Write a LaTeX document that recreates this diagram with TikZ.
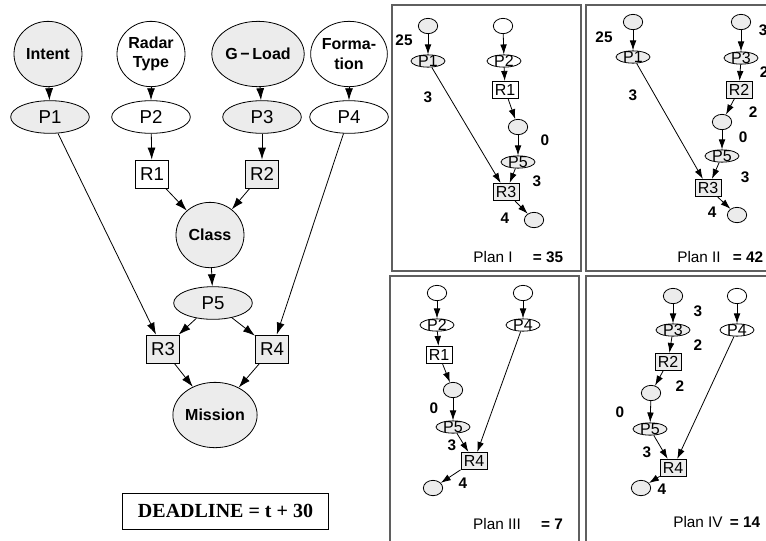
\documentclass[tikz,border=0pt]{standalone}
\usepackage{fontspec}
\setmainfont{Liberation Sans}
\newfontfamily\deadfont{Liberation Serif}
\usetikzlibrary{arrows.meta,shapes.geometric}
\definecolor{nodegray}{RGB}{236,236,236}
\definecolor{framegray}{RGB}{95,95,95}

\begin{document}
\begin{tikzpicture}[x=0.75pt, y=-0.75pt, font=\fontsize{14}{16}\selectfont, line width=0.6pt,
	>={Latex[length=9pt,width=6pt]},
	gr/.style={fill=nodegray}, wh/.style={fill=white},
	bignode/.style={ellipse, draw=black, minimum width=51pt, minimum height=49pt, inner sep=0pt, align=center, font=\fontsize{12}{14.5}\selectfont\bfseries},
	pnode/.style={ellipse, draw=black, minimum width=59pt, minimum height=24.5pt, inner sep=0pt},
	rnode/.style={rectangle, draw=black, minimum width=25pt, minimum height=21pt, inner sep=0pt},
	tinynode/.style={ellipse, draw=black, minimum width=14.5pt, minimum height=11.5pt, inner sep=0pt},
	smallp/.style={ellipse, draw=black, minimum width=25.5pt, minimum height=9.2pt, inner sep=0pt, label={[inner sep=0pt, font=\fontsize{12}{13}\selectfont]center:#1}},
	smallr/.style={rectangle, draw=black, minimum width=19.5pt, minimum height=13pt, inner sep=0pt, font=\fontsize{12}{13}\selectfont},
	cost/.style={inner sep=0pt, font=\fontsize{11.5}{13}\selectfont\bfseries},
	plantext/.style={inner sep=0pt, font=\fontsize{11.5}{13}\selectfont},
	sumtext/.style={inner sep=0pt, font=\fontsize{11.5}{13}\selectfont\bfseries},
	planbox/.style={draw=framegray, line width=1pt},
	sarrow/.style={-{Latex[length=7.5pt,width=5pt]}}]
	\useasboundingbox (0,0) rectangle (766,540);

	\node[bignode,gr] (I) at (48,54) {Intent};
	\node[bignode,wh] (RT) at (151,54) {Radar\\Type};
	\node[bignode,gr] (G) at (258,54) {G\,−\,Load};
	\node[bignode,wh] (F) at (349,54) {Forma-\\tion};
	\node[pnode,gr] (P1) at (50,117) {P1};
	\node[pnode,wh] (P2) at (151,117) {P2};
	\node[pnode,gr] (P3) at (262,117) {P3};
	\node[pnode,wh] (P4) at (349,117) {P4};
	\node[rnode,wh] (R1) at (152,174) {R1};
	\node[rnode,gr] (R2) at (262,174) {R2};
	\node[bignode,gr] (C) at (210,235) {Class};
	\node[pnode,gr] (P5) at (213,303) {P5};
	\node[rnode,gr] (R3) at (163,349) {R3};
	\node[rnode,gr] (R4) at (272,349) {R4};
	\node[bignode,gr] (M) at (215,415) {Mission};
	\node[draw=black, minimum width=155pt, minimum height=27pt, font=\deadfont\fontsize{15}{17}\selectfont\bfseries] (D) at (225.5,511) {DEADLINE = t + 30};
	\draw [->] (I) to (P1);
	\draw [->] (RT) to (P2);
	\draw [->] (G) to (P3);
	\draw [->] (F) to (P4);
	\draw [->] (P2) to (R1);
	\draw [->] (P3) to (R2);
	\draw [->] (R1) to (C);
	\draw [->] (R2) to (C);
	\draw [->] (C) to (P5);
	\draw [->] (P1) to (R3);
	\draw [->] (P5) to (R3);
	\draw [->] (P5) to (R4);
	\draw [->] (P4) to (R4);
	\draw [->] (R3) to (M);
	\draw [->] (R4) to (M);

	\draw[planbox] (392,5) rectangle (581,271);
	\node[tinynode,gr] (aT1) at (428,26) {};
	\node[tinynode,wh] (aT2) at (503,26) {};
	\node[smallp=P1,gr] (aP1) at (428,61) {};
	\node[smallp=P2,wh] (aP2) at (504,61) {};
	\node[smallr,wh] (aR1) at (505,90) {R1};
	\node[tinynode,gr] (aM) at (518,127) {};
	\node[smallp=P5,gr] (aP5) at (518,162) {};
	\node[smallr,gr] (aR3) at (506,192) {R3};
	\node[tinynode,gr] (aE) at (534,220) {};
	\node[cost] (aN1) at (404,40) {25};
	\node[cost] (aN2) at (428,97) {3};
	\node[cost] (aN3) at (545,140) {0};
	\node[cost] (aN4) at (537,181) {3};
	\node[cost] (aN5) at (505,218) {4};
	\node[plantext] (aPlan) at (493,257) {Plan I};
	\node[sumtext] (aSum) at (548,257) {= 35};
	\draw [sarrow] (aT1) to (aP1);
	\draw [sarrow] (aT2) to (aP2);
	\draw [sarrow] (aP2) to (aR1);
	\draw [sarrow] (aR1) to (aM);
	\draw [sarrow] (aM) to (aP5);
	\draw [sarrow] (aP1) to (aR3);
	\draw [sarrow] (aP5) to (aR3);
	\draw [sarrow] (aR3) to (aE);

	\draw[planbox] (586,5) rectangle (780,271);
	\node[tinynode,gr] (bT1) at (633,22) {};
	\node[tinynode,gr] (bT2) at (741,22) {};
	\node[smallp=P1,gr] (bP1) at (633,57) {};
	\node[smallp=P3,gr] (bP3) at (741,58) {};
	\node[smallr,gr] (bR2) at (739,90) {R2};
	\node[tinynode,gr] (bM) at (722,122) {};
	\node[smallp=P5,gr] (bP5) at (722,156) {};
	\node[smallr,gr] (bR3) at (708,188) {R3};
	\node[tinynode,gr] (bE) at (737,215) {};
	\node[cost] (bN1) at (604,37) {25};
	\node[cost] (bN2) at (633,95) {3};
	\node[cost] (bN3) at (763,30) {3};
	\node[cost] (bN4) at (764,72) {2};
	\node[cost] (bN5) at (753,112) {2};
	\node[cost] (bN6) at (743,137) {0};
	\node[cost] (bN7) at (745,177) {3};
	\node[cost] (bN8) at (712,212) {4};
	\node[plantext] (bPlan) at (699,257) {Plan II};
	\node[sumtext] (bSum) at (748,257) {= 42};
	\draw [sarrow] (bT1) to (bP1);
	\draw [sarrow] (bT2) to (bP3);
	\draw [sarrow] (bP3) to (bR2);
	\draw [sarrow] (bR2) to (bM);
	\draw [sarrow] (bM) to (bP5);
	\draw [sarrow] (bP1) to (bR3);
	\draw [sarrow] (bP5) to (bR3);
	\draw [sarrow] (bR3) to (bE);

	\draw[planbox] (390,276) rectangle (579,548);
	\node[tinynode,wh] (cT1) at (437,293) {};
	\node[tinynode,wh] (cT2) at (523,293) {};
	\node[smallp=P2,wh] (cP2) at (437,325) {};
	\node[smallp=P4,wh] (cP4) at (523,325) {};
	\node[smallr,wh] (cR1) at (439,355) {R1};
	\node[tinynode,gr] (cM) at (453,390) {};
	\node[smallp=P5,gr] (cP5) at (453,427) {};
	\node[smallr,gr] (cR4) at (474,461) {R4};
	\node[tinynode,gr] (cE) at (433,488) {};
	\node[cost] (cN1) at (434,408) {0};
	\node[cost] (cN2) at (452,445) {3};
	\node[cost] (cN3) at (463,483) {4};
	\node[plantext] (cPlan) at (497,524) {Plan III};
	\node[sumtext] (cSum) at (552,524) {= 7};
	\draw [sarrow] (cT1) to (cP2);
	\draw [sarrow] (cT2) to (cP4);
	\draw [sarrow] (cP2) to (cR1);
	\draw [sarrow] (cR1) to (cM);
	\draw [sarrow] (cM) to (cP5);
	\draw [sarrow] (cP5) to (cR4);
	\draw [sarrow] (cP4) to (cR4);
	\draw [sarrow] (cR4) to (cE);

	\draw[planbox] (586,276) rectangle (780,548);
	\node[tinynode,gr] (dT1) at (673,296) {};
	\node[tinynode,wh] (dT2) at (737,296) {};
	\node[smallp=P3,gr] (dP3) at (673,330) {};
	\node[smallp=P4,wh] (dP4) at (737,330) {};
	\node[smallr,gr] (dR2) at (668,362) {R2};
	\node[tinynode,gr] (dM) at (651,393) {};
	\node[smallp=P5,gr] (dP5) at (650,429) {};
	\node[smallr,gr] (dR4) at (673,468) {R4};
	\node[tinynode,gr] (dE) at (641,488) {};
	\node[cost] (dN1) at (698,311) {3};
	\node[cost] (dN2) at (698,345) {2};
	\node[cost] (dN3) at (680,386) {2};
	\node[cost] (dN4) at (620,412) {0};
	\node[cost] (dN5) at (647,452) {3};
	\node[cost] (dN6) at (662,489) {4};
	\node[plantext] (dPlan) at (698,522) {Plan IV};
	\node[sumtext] (dSum) at (745,522) {= 14};
	\draw [sarrow] (dT1) to (dP3);
	\draw [sarrow] (dT2) to (dP4);
	\draw [sarrow] (dP3) to (dR2);
	\draw [sarrow] (dR2) to (dM);
	\draw [sarrow] (dM) to (dP5);
	\draw [sarrow] (dP5) to (dR4);
	\draw [sarrow] (dP4) to (dR4);
	\draw [sarrow] (dR4) to (dE);
\end{tikzpicture}
\end{document}
